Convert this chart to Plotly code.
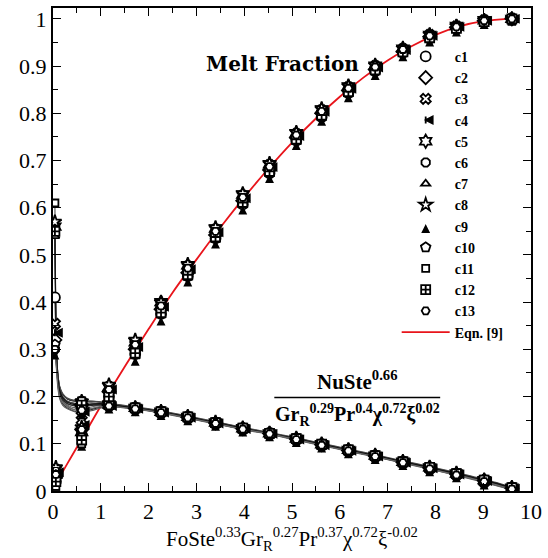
import plotly.graph_objects as go

# ---- sampling positions (dimensionless time group) ----
# melt-fraction samples, one per output time
MELT_X = [0.06, 0.6, 1.17, 1.72, 2.26, 2.82, 3.4, 3.97, 4.53, 5.09,
          5.62, 6.18, 6.74, 7.32, 7.88, 8.44, 9.02, 9.6]

# Nusselt curves are stored on a finer grid near the start
NU_X = [0.04, 0.07, 0.1, 0.14, 0.2, 0.3, 0.45, 0.6, 0.8, 1.0, 1.17,
        1.72, 2.26, 2.82, 3.4, 3.97, 4.53, 5.09, 5.62, 6.18, 6.74,
        7.32, 7.88, 8.44, 9.02, 9.6]
# grid indices where the Nusselt samples are marked
NU_MARK_IDX = [0, 7, 10, 11, 12, 13, 14, 15, 16, 17, 18, 19, 20, 21, 22, 23, 24, 25]

CASES = ["c1", "c2", "c3", "c4", "c5", "c6", "c7", "c8", "c9", "c10", "c11", "c12", "c13"]

melt_c1 = [0.02, 0.12, 0.20, 0.29, 0.375, 0.455, 0.535, 0.607, 0.673, 0.742, 0.792, 0.843, 0.889, 0.928, 0.958, 0.979, 0.994, 1.0]
melt_c2 = [0.03, 0.13, 0.21, 0.30, 0.385, 0.462, 0.542, 0.615, 0.68, 0.748, 0.80, 0.848, 0.893, 0.931, 0.962, 0.982, 0.996, 1.0]
melt_c3 = [0.045, 0.15, 0.22, 0.31, 0.395, 0.475, 0.553, 0.625, 0.69, 0.756, 0.806, 0.855, 0.90, 0.936, 0.966, 0.984, 0.997, 1.0]
melt_c4 = [0.04, 0.14, 0.215, 0.305, 0.39, 0.47, 0.548, 0.62, 0.686, 0.752, 0.803, 0.852, 0.897, 0.934, 0.964, 0.983, 0.996, 1.0]
melt_c5 = [0.035, 0.125, 0.22, 0.315, 0.40, 0.478, 0.556, 0.628, 0.692, 0.758, 0.808, 0.857, 0.901, 0.937, 0.966, 0.985, 0.997, 1.0]
melt_c6 = [0.03, 0.11, 0.205, 0.295, 0.38, 0.46, 0.54, 0.612, 0.678, 0.745, 0.796, 0.846, 0.891, 0.93, 0.96, 0.98, 0.995, 1.0]
melt_c7 = [0.02, 0.105, 0.195, 0.285, 0.372, 0.452, 0.532, 0.605, 0.671, 0.74, 0.79, 0.84, 0.887, 0.926, 0.957, 0.978, 0.993, 1.0]
melt_c8 = [0.05, 0.135, 0.225, 0.32, 0.40, 0.48, 0.558, 0.63, 0.694, 0.76, 0.81, 0.858, 0.902, 0.938, 0.967, 0.985, 0.997, 1.0]
melt_c9 = [0.015, 0.10, 0.19, 0.28, 0.365, 0.448, 0.528, 0.60, 0.667, 0.737, 0.788, 0.838, 0.885, 0.925, 0.956, 0.977, 0.993, 1.0]
melt_c10 = [0.025, 0.115, 0.21, 0.30, 0.385, 0.465, 0.545, 0.617, 0.683, 0.75, 0.80, 0.85, 0.895, 0.932, 0.962, 0.981, 0.995, 1.0]
melt_c11 = [0.01, 0.10, 0.195, 0.29, 0.375, 0.455, 0.537, 0.61, 0.676, 0.744, 0.795, 0.845, 0.891, 0.929, 0.959, 0.98, 0.994, 1.0]
melt_c12 = [0.02, 0.108, 0.20, 0.292, 0.378, 0.458, 0.538, 0.611, 0.677, 0.745, 0.796, 0.846, 0.892, 0.93, 0.96, 0.98, 0.994, 1.0]
melt_c13 = [0.035, 0.13, 0.215, 0.31, 0.392, 0.472, 0.55, 0.622, 0.687, 0.754, 0.804, 0.853, 0.898, 0.935, 0.964, 0.983, 0.996, 1.0]

nu_c1 = [0.41, 0.30, 0.25, 0.22, 0.205, 0.195, 0.19, 0.19, 0.19, 0.188, 0.184, 0.176, 0.168, 0.157, 0.145, 0.133, 0.123, 0.111, 0.099, 0.087, 0.075, 0.062, 0.05, 0.037, 0.023, 0.007]
nu_c2 = [0.32, 0.28, 0.24, 0.215, 0.2, 0.19, 0.185, 0.183, 0.184, 0.184, 0.182, 0.175, 0.167, 0.156, 0.144, 0.132, 0.122, 0.11, 0.098, 0.086, 0.074, 0.061, 0.049, 0.036, 0.022, 0.006]
nu_c3 = [0.354, 0.29, 0.235, 0.205, 0.19, 0.18, 0.172, 0.17, 0.174, 0.179, 0.181, 0.175, 0.166, 0.155, 0.143, 0.131, 0.121, 0.109, 0.097, 0.085, 0.073, 0.06, 0.047, 0.034, 0.019, 0.003]
nu_c4 = [0.335, 0.285, 0.23, 0.2, 0.185, 0.176, 0.169, 0.168, 0.172, 0.178, 0.18, 0.174, 0.166, 0.155, 0.143, 0.131, 0.121, 0.109, 0.097, 0.085, 0.073, 0.06, 0.048, 0.035, 0.021, 0.005]
nu_c5 = [0.56, 0.30, 0.245, 0.215, 0.2, 0.19, 0.186, 0.186, 0.187, 0.186, 0.183, 0.176, 0.168, 0.157, 0.145, 0.133, 0.122, 0.111, 0.099, 0.087, 0.075, 0.062, 0.05, 0.037, 0.023, 0.007]
nu_c6 = [0.30, 0.27, 0.23, 0.205, 0.19, 0.182, 0.176, 0.175, 0.178, 0.181, 0.181, 0.175, 0.167, 0.156, 0.144, 0.132, 0.122, 0.11, 0.098, 0.086, 0.074, 0.061, 0.049, 0.036, 0.022, 0.006]
nu_c7 = [0.54, 0.295, 0.24, 0.21, 0.195, 0.185, 0.18, 0.179, 0.181, 0.183, 0.182, 0.175, 0.167, 0.156, 0.144, 0.132, 0.121, 0.11, 0.098, 0.086, 0.073, 0.061, 0.048, 0.035, 0.02, 0.004]
nu_c8 = [0.57, 0.305, 0.25, 0.22, 0.205, 0.195, 0.191, 0.19, 0.19, 0.188, 0.185, 0.177, 0.169, 0.158, 0.146, 0.134, 0.123, 0.112, 0.1, 0.088, 0.076, 0.063, 0.051, 0.038, 0.024, 0.008]
nu_c9 = [0.293, 0.26, 0.22, 0.195, 0.182, 0.174, 0.168, 0.166, 0.17, 0.176, 0.179, 0.173, 0.165, 0.154, 0.142, 0.13, 0.12, 0.108, 0.096, 0.084, 0.072, 0.059, 0.046, 0.033, 0.018, 0.002]
nu_c10 = [0.31, 0.275, 0.232, 0.207, 0.193, 0.185, 0.181, 0.18, 0.182, 0.183, 0.182, 0.175, 0.167, 0.156, 0.144, 0.132, 0.122, 0.11, 0.098, 0.086, 0.074, 0.061, 0.049, 0.036, 0.022, 0.006]
nu_c11 = [0.61, 0.31, 0.25, 0.222, 0.207, 0.197, 0.192, 0.191, 0.19, 0.189, 0.186, 0.178, 0.17, 0.159, 0.147, 0.135, 0.124, 0.113, 0.101, 0.089, 0.077, 0.064, 0.052, 0.039, 0.025, 0.009]
nu_c12 = [0.55, 0.298, 0.243, 0.213, 0.198, 0.188, 0.183, 0.182, 0.184, 0.185, 0.183, 0.176, 0.168, 0.157, 0.145, 0.133, 0.122, 0.111, 0.099, 0.087, 0.075, 0.062, 0.05, 0.037, 0.023, 0.007]
nu_c13 = [0.30, 0.265, 0.225, 0.2, 0.187, 0.178, 0.172, 0.171, 0.175, 0.179, 0.18, 0.174, 0.166, 0.155, 0.143, 0.131, 0.121, 0.109, 0.097, 0.085, 0.073, 0.06, 0.047, 0.034, 0.02, 0.004]

MELT = [melt_c1, melt_c2, melt_c3, melt_c4, melt_c5, melt_c6, melt_c7,
        melt_c8, melt_c9, melt_c10, melt_c11, melt_c12, melt_c13]
NU = [nu_c1, nu_c2, nu_c3, nu_c4, nu_c5, nu_c6, nu_c7,
      nu_c8, nu_c9, nu_c10, nu_c11, nu_c12, nu_c13]

# correlation, Eqn. [9]
EQN_X = [0.0, 0.3, 0.6, 1.0, 1.5, 2.0, 2.5, 3.0, 3.5, 4.0, 4.5, 5.0,
         5.5, 6.0, 6.5, 7.0, 7.5, 8.0, 8.5, 9.0, 9.5, 9.7]
EQN_Y = [0.005, 0.058, 0.11, 0.18, 0.263, 0.343, 0.42, 0.49, 0.558, 0.622, 0.682, 0.738,
         0.789, 0.835, 0.876, 0.912, 0.942, 0.966, 0.984, 0.995, 1.0, 1.0]

SYMBOLS = ["circle", "diamond", "x", "arrow-bar-left", "hexagram", "octagon",
           "triangle-up", "star", "arrow-up", "pentagon", "square", "square-cross",
           "hexagon2"]
SIZES = [10, 10, 9, 7, 10, 9, 8, 10, 6, 10, 7, 9, 8]
FILLS = ["white", "white", "white", "black", "white", "white", "white", "white",
         "black", "white", "white", "white", "white"]
LINE_GRAYS = ["#111111", "#333333", "#555555", "#222222", "#444444", "#666666",
              "#1a1a1a", "#3a3a3a", "#5a5a5a", "#2a2a2a", "#4a4a4a", "#111111", "#6a6a6a"]

SERIF = "Liberation Serif"

fig = go.Figure()

# correlation curve first so the symbols sit on top of it
fig.add_trace(go.Scatter(
    x=EQN_X, y=EQN_Y, mode="lines", name="<b>Eqn. [9]</b>",
    line=dict(color="#e8141b", width=1.8, shape="spline"),
    legendrank=2000,
))

# Nusselt curves (thin gray lines)
for i, name in enumerate(CASES):
    fig.add_trace(go.Scatter(
        x=NU_X, y=NU[i], mode="lines", showlegend=False, legendgroup=name,
        line=dict(color=LINE_GRAYS[i], width=1.1, shape="spline", smoothing=0.6),
        hoverinfo="skip",
    ))

# markers for each case: Nusselt samples and melt fraction
for i, name in enumerate(CASES):
    mk = dict(symbol=SYMBOLS[i], size=SIZES[i], color=FILLS[i],
              line=dict(color="black", width=1.8))
    fig.add_trace(go.Scatter(
        x=[NU_X[k] for k in NU_MARK_IDX], y=[NU[i][k] for k in NU_MARK_IDX],
        mode="markers", marker=mk, showlegend=False, legendgroup=name,
    ))
    fig.add_trace(go.Scatter(
        x=MELT_X, y=MELT[i], mode="markers", marker=mk,
        name="<b>%s</b>" % name, legendgroup=name, legendrank=i + 1,
    ))

axis_common = dict(
    showline=True, linecolor="black", linewidth=2, mirror="allticks",
    ticks="inside", ticklen=8, tickwidth=1.2, tickcolor="black",
    showgrid=False, zeroline=False,
    tickfont=dict(family=SERIF, size=22, color="black"),
)

fig.update_xaxes(
    range=[0, 10], dtick=1, tick0=0,
    minor=dict(ticks="inside", ticklen=5, dtick=0.5, tickcolor="black", tickwidth=1),
    title=dict(
        text="FoSte<sup>0.33</sup>Gr<sub>R</sub><sup>0.27</sup>Pr<sup>0.37</sup>"
             "χ<sup>0.72</sup>ξ<sup>-0.02</sup>",
        font=dict(family=SERIF, size=21, color="black"), standoff=8),
    **axis_common,
)
fig.update_yaxes(
    range=[0, 1.023], dtick=0.1, tick0=0, tickformat="~g",
    minor=dict(ticks="inside", ticklen=5, dtick=0.05, tickcolor="black", tickwidth=1),
    **axis_common,
)

fig.add_annotation(
    x=4.8, y=0.905, xref="x", yref="y", showarrow=False,
    text="<b>Melt Fraction</b>",
    font=dict(family="DejaVu Serif", size=20, color="black"),
)
fig.add_annotation(
    x=6.36, y=0.2, xref="x", yref="y", showarrow=False,
    yanchor="bottom", yshift=1,
    text="<b>NuSte<sup>0.66</sup></b>",
    font=dict(family=SERIF, size=21, color="black"),
)
fig.add_annotation(
    x=6.36, y=0.196, xref="x", yref="y", showarrow=False,
    yanchor="top", yshift=-1,
    text="<b>Gr<sub>R</sub><sup>0.29</sup>Pr<sup>0.4</sup>χ<sup>0.72</sup>ξ<sup>0.02</sup></b>",
    font=dict(family=SERIF, size=20, color="black"),
)
fig.add_shape(type="line", xref="x", yref="y", x0=4.63, x1=8.1, y0=0.198, y1=0.198,
              line=dict(color="black", width=1.3))

fig.update_layout(
    width=548, height=558,
    margin=dict(l=53, r=11, t=6, b=67),
    paper_bgcolor="white", plot_bgcolor="white",
    showlegend=True,
    legend=dict(
        x=0.719, y=0.932, xanchor="left", yanchor="top",
        bgcolor="rgba(0,0,0,0)", borderwidth=0,
        font=dict(family=SERIF, size=14, color="black"),
        itemwidth=48, tracegroupgap=0, traceorder="normal",
    ),
)

fig.write_html("out.html")
